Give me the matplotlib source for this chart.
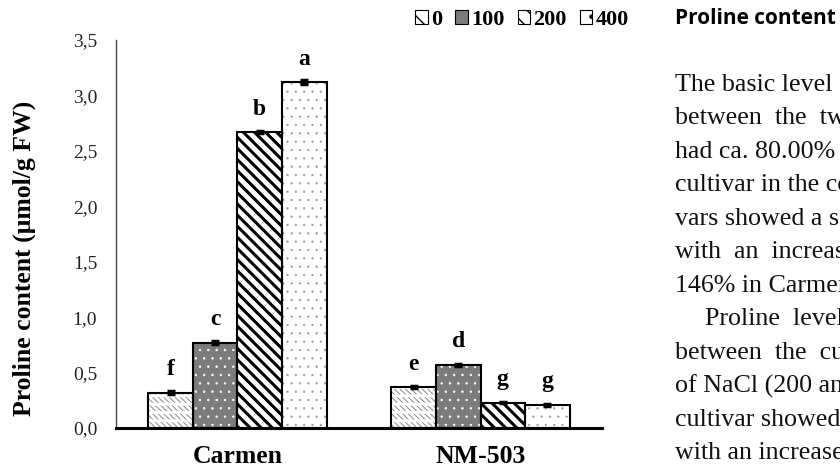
import matplotlib
matplotlib.use("Agg")
import matplotlib.pyplot as plt
from matplotlib.patches import Patch
import numpy as np

# data
cultivars = ["Carmen", "NM-503"]
doses = ["0", "100", "200", "400"]
proline = {
    "0":   [0.32, 0.37],
    "100": [0.77, 0.57],
    "200": [2.67, 0.23],
    "400": [3.12, 0.21],
}
errors = {
    "0":   [0.010, 0.010],
    "100": [0.015, 0.010],
    "200": [0.010, 0.008],
    "400": [0.015, 0.008],
}
letters = {
    "0":   ["f", "e"],
    "100": ["c", "d"],
    "200": ["b", "g"],
    "400": ["a", "g"],
}
yticks = [0.0, 0.5, 1.0, 1.5, 2.0, 2.5, 3.0, 3.5]

heading = "Proline content"
body_lines = [
    "The basic level",
    "between  the  two",
    "had ca. 80.00%",
    "cultivar in the co",
    "vars showed a s",
    "with  an  increase",
    "146% in Carmen",
    "Proline  level",
    "between  the  cul",
    "of NaCl (200 and",
    "cultivar showed",
    "with an increase",
]
indented = [7]

# (face, hatch colour, hatch, hatch linewidth)
styles = {
    "0":   ("white", "#8a8a8a", "\\\\\\\\\\\\", 0.7),
    "100": ("#7c7c7c", "white", "..", 0.5),
    "200": ("white", "black", "\\\\\\", 2.2),
    "400": ("white", "#9a9a9a", "..", 0.4),
}

serif = "Liberation Serif"

fig = plt.figure(figsize=(8.4, 4.69), dpi=100)
ax = fig.add_axes([0.138, 0.0874, 0.5787, 0.8273])

x = np.arange(len(cultivars))
width = 0.1835
offsets = (np.arange(len(doses)) - 1.5) * width


def hatched(xs, ys, face, hcol, hatch, hlw, z):
    with plt.rc_context({"hatch.linewidth": hlw}):
        bars = ax.bar(xs, ys, width, color=face, edgecolor=hcol,
                      linewidth=0, hatch=hatch, zorder=z)
        for b in bars:
            if hasattr(b, "set_hatch_linewidth"):
                b.set_hatch_linewidth(hlw)
    return bars


for dose, off in zip(doses, offsets):
    face, hcol, hatch, hlw = styles[dose]
    hatched(x + off, proline[dose], face, hcol, hatch, hlw, 2)
    if dose == "0":
        # break the fine diagonals into rows of short dashes
        hatched(x + off, proline[dose], "none", "white", "--", 2.0, 2.1)
    ax.bar(x + off, proline[dose], width, fill=False,
           edgecolor="black", linewidth=1.5, zorder=3)
    ax.errorbar(x + off, proline[dose], yerr=errors[dose], fmt="none",
                ecolor="black", elinewidth=1.5, capsize=3, capthick=2.5, zorder=4)
    for xi, yi, lab in zip(x + off, proline[dose], letters[dose]):
        ax.annotate(lab, (xi, yi), xytext=(0, 12.5), textcoords="offset points",
                    ha="center", va="baseline", fontsize=17, fontweight="bold",
                    family=serif)

ax.set_xlim(-0.5, 1.5)
ax.set_ylim(0, 3.5)
ax.set_yticks(yticks)
ax.set_yticklabels([f"{v:.1f}".replace(".", ",") for v in yticks],
                   family=serif, fontsize=14, color="#222222")
ax.set_xticks(x)
ax.set_xticklabels(cultivars, family=serif, fontsize=18.5, fontweight="bold")
ax.tick_params(axis="y", length=0, pad=13.5)
ax.tick_params(axis="x", length=0, pad=12)
ax.spines["top"].set_visible(False)
ax.spines["right"].set_visible(False)
ax.spines["left"].set_linewidth(1.0)
ax.spines["left"].set_color("#444444")
ax.spines["bottom"].set_linewidth(2.2)
ax.set_ylabel("Proline content (\u03bcmol/g FW)", family=serif, fontsize=18.5,
              fontweight="bold")
ax.yaxis.set_label_coords(-0.165, 0.436)

handles = [
    Patch(facecolor="white", edgecolor="black", hatch="\\", linewidth=0.8),
    Patch(facecolor="#7c7c7c", edgecolor="black", linewidth=0.8),
    Patch(facecolor="white", edgecolor="black", hatch="\\\\", linewidth=0.8),
    Patch(facecolor="white", edgecolor="black", hatch=".", linewidth=0.8),
]
fig.legend(handles, doses, loc="center", bbox_to_anchor=(522 / 840, 1 - 20 / 469),
           ncol=4, frameon=False, handlelength=0.55, handleheight=0.55,
           handletextpad=0.15, columnspacing=0.6, borderpad=0, borderaxespad=0,
           prop={"family": serif, "weight": "bold", "size": 16})

# neighbouring article text, cut by the right edge as in the source
fig.text(675 / 840, 1 - 19 / 469, heading, family="Open Sans",
         fontweight="bold", fontsize=15, va="center", ha="left")
for i, line in enumerate(body_lines):
    y = 85 + i * 33.45
    x0 = 705 if i in indented else 675
    fig.text(x0 / 840, 1 - y / 469, line, family=serif, fontsize=18.7,
             va="center", ha="left", color="#111111")

fig.savefig("out.png", dpi=100)
